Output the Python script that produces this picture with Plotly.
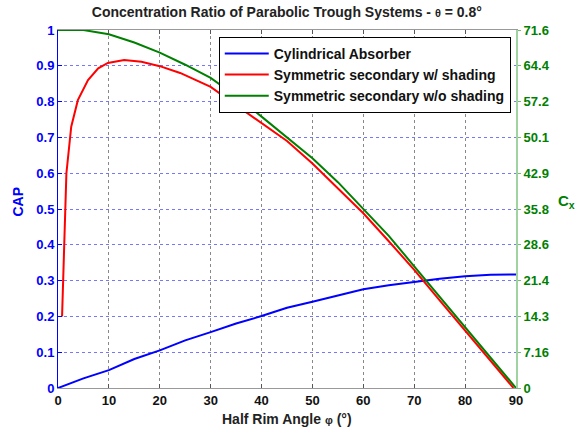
import plotly.graph_objects as go

# Half rim angle (deg) and concentration values
phi_cyl = [0, 5, 10, 15, 20, 25, 30, 35, 40, 45, 50, 55, 60, 65, 70, 75, 80, 85, 90]
cap_cyl = [0, 0.027, 0.05, 0.081, 0.105, 0.133, 0.156, 0.18, 0.201, 0.224, 0.241,
           0.259, 0.276, 0.287, 0.297, 0.305, 0.312, 0.316, 0.317]

phi_shade = [0.8, 1.2, 1.65, 2.6, 3.9, 5.9, 7.9, 9.8, 13, 16.4, 20, 24, 30, 35, 40,
             45, 50, 55, 60, 65, 70, 75, 80, 85, 89.5]
cap_shade = [0.2, 0.395, 0.6, 0.73, 0.804, 0.86, 0.893, 0.908, 0.916, 0.911, 0.899,
             0.88, 0.841, 0.79, 0.739, 0.69, 0.627, 0.556, 0.488, 0.41, 0.33, 0.245,
             0.16, 0.075, 0]

phi_noshade = [0, 5, 10, 15, 20, 25, 30, 35, 40, 45, 50, 55, 60, 65, 70, 75, 80, 85, 90]
cap_noshade = [1, 1, 0.988, 0.965, 0.937, 0.903, 0.866, 0.815, 0.758, 0.70, 0.642,
               0.575, 0.501, 0.425, 0.34, 0.255, 0.17, 0.085, 0]

x_ticks = [0, 10, 20, 30, 40, 50, 60, 70, 80, 90]
cap_ticks = [0, 0.1, 0.2, 0.3, 0.4, 0.5, 0.6, 0.7, 0.8, 0.9, 1]
cap_ticklabels = ["0", "0.1", "0.2", "0.3", "0.4", "0.5", "0.6", "0.7", "0.8", "0.9", "1"]
cx_max = 71.6
cx_ticks = [0, 7.16, 14.32, 21.48, 28.64, 35.8, 42.96, 50.12, 57.28, 64.44, 71.6]
cx_ticklabels = ["0", "7.16", "14.3", "21.4", "28.6", "35.8", "42.9", "50.1", "57.2", "64.4", "71.6"]

FONT = "Liberation Sans"
BLUE = "#0000ff"
RED = "#ff0000"
GREEN = "#008000"

fig = go.Figure()
fig.add_trace(go.Scatter(x=phi_cyl, y=cap_cyl, mode="lines", name="Cylindrical Absorber",
                         line=dict(color=BLUE, width=2)))
fig.add_trace(go.Scatter(x=phi_shade, y=cap_shade, mode="lines",
                         name="Symmetric secondary w/ shading",
                         line=dict(color=RED, width=2)))
fig.add_trace(go.Scatter(x=phi_noshade, y=cap_noshade, mode="lines",
                         name="Symmetric secondary w/o shading",
                         line=dict(color=GREEN, width=2)))
# placeholder trace so the right-hand C_x axis is rendered
fig.add_trace(go.Scatter(x=[None], y=[None], yaxis="y2", showlegend=False,
                         hoverinfo="skip", mode="lines"))

fig.update_layout(
    width=576, height=429,
    margin=dict(l=58, r=60, t=30, b=41),
    paper_bgcolor="white", plot_bgcolor="white",
    font=dict(family=FONT, size=13, color="black"),
    showlegend=True,
    legend=dict(x=0.351, y=0.981, xanchor="left", yanchor="top",
                bgcolor="white", bordercolor="black", borderwidth=1,
                font=dict(family=FONT, size=14, color="#111111", weight="bold"),
                itemwidth=44, tracegroupgap=0),
    xaxis=dict(range=[0, 90], tickvals=x_ticks, ticks="inside", ticklen=4,
               tickcolor="#555555", showline=True, linecolor="#999999", linewidth=1,
               mirror="ticks", showgrid=True, gridcolor="#888888", griddash="dot",
               gridwidth=1, zeroline=False,
               tickfont=dict(family=FONT, size=13, color="#111111", weight="bold")),
    yaxis=dict(range=[0, 1], tickvals=cap_ticks, ticktext=cap_ticklabels,
               ticks="inside", ticklen=4, tickcolor=BLUE, showline=True,
               linecolor=BLUE, linewidth=1, showgrid=True,
               gridcolor="rgba(60,60,255,0.7)", griddash="dot", gridwidth=1,
               zeroline=False,
               tickfont=dict(family=FONT, size=13, color=BLUE, weight="bold")),
    yaxis2=dict(range=[0, cx_max], tickvals=cx_ticks, ticktext=cx_ticklabels,
                overlaying="y", side="right", ticks="outside", ticklen=3,
                tickcolor="#6fbf6f", showline=True, linecolor="#9fd39f", linewidth=2,
                showgrid=False, zeroline=False,
                tickfont=dict(family=FONT, size=13, color=GREEN, weight="bold")),
    title=dict(text="Concentration Ratio of Parabolic Trough Systems - "
                    "<span style='font-size:11px'>θ</span> = 0.8°",
               x=0.498, xanchor="center", y=0.972, yanchor="middle",
               font=dict(family=FONT, size=14, color="#222222", weight="bold")),
    annotations=[
        dict(text="Half Rim Angle <span style='font-size:11px'>φ</span> (°)",
             xref="paper", yref="paper", x=0.5, y=-0.086, xanchor="center",
             yanchor="middle", showarrow=False,
             font=dict(family=FONT, size=14, color="#222222", weight="bold")),
        dict(text="CAP", xref="paper", yref="paper", x=-0.088, y=0.52,
             xanchor="center", yanchor="middle", textangle=-90, showarrow=False,
             font=dict(family=FONT, size=14, color=BLUE, weight="bold")),
        dict(text="C<sub>x</sub>", xref="paper", yref="paper", x=1.11, y=0.52,
             xanchor="center", yanchor="middle", showarrow=False,
             font=dict(family=FONT, size=15, color=GREEN, weight="bold")),
    ],
)

fig.write_html("out.html")
